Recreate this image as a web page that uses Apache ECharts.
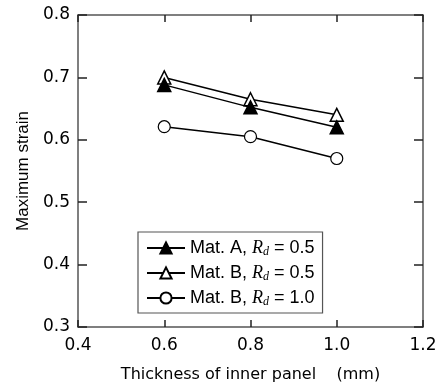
<!DOCTYPE html>
<html><head><meta charset="utf-8">
<script src="https://cdn.jsdelivr.net/npm/echarts@6/dist/echarts.min.js"></script>
<style>html,body{margin:0;padding:0;background:#fff}#c{width:443px;height:385px}</style>
</head><body><div id="c"></div>
<script>
var thickness = [0.6, 0.8, 1.0];
var matA_Rd05 = [0.688, 0.652, 0.620];
var matB_Rd05 = [0.700, 0.665, 0.640];
var matB_Rd10 = [0.621, 0.605, 0.570];
var seriesNames = ['Mat. A', 'Mat. B', 'Mat. B'];
var rdValues = ['0.5', '0.5', '1.0'];
var xTicks = [0.4, 0.6, 0.8, 1.0, 1.2];
var yTicks = [0.3, 0.4, 0.5, 0.6, 0.7, 0.8];

var FONT = 'DejaVu Sans, sans-serif';
var FONT2 = 'Liberation Sans, Arial, sans-serif';
var SERIF = 'Liberation Serif, Times New Roman, serif';
var AX = '#555';
function pairs(ys){ return thickness.map(function(x,i){ return [x, ys[i]]; }); }
function fmtX(v){ var s = v.toFixed(1); return xTicks.some(function(t){return Math.abs(t-v)<1e-9;}) ? s : ''; }

var names = seriesNames.map(function(n,i){ return n + ', R' + i; });
var chart = echarts.init(document.getElementById('c'));
var baseAxis = {
  axisLine:{show:true,lineStyle:{color:AX,width:1.5}},
  splitLine:{show:false}
};
chart.setOption({
  animation:false,
  grid:{left:78,right:20,top:15,bottom:58,containLabel:false,outerBoundsMode:'none'},
  legend:{
    orient:'vertical', left:138, top:232, width:186,
    padding:[7,8,5,8], itemGap:6,
    borderColor:'#555', borderWidth:1.2, backgroundColor:'#fff',
    itemWidth:38, itemHeight:14,
    data: names,
    formatter:function(name){
      var i = +name.slice(-1);
      return seriesNames[i] + ', {r|R}{d|d}{t| = ' + rdValues[i] + '}';
    },
    textStyle:{fontFamily:FONT2,fontSize:18,color:'#000',
      rich:{
        r:{fontFamily:SERIF,fontStyle:'italic',fontSize:18,color:'#000'},
        d:{fontFamily:SERIF,fontStyle:'italic',fontSize:12,color:'#000',verticalAlign:'bottom',padding:[8,0,0,0]},
        t:{fontFamily:FONT2,fontSize:18,color:'#000'}
      }}
  },
  xAxis:[
    Object.assign({type:'value',min:0.4,max:1.2,interval:0.2,position:'bottom',
      name:'Thickness of inner panel    (mm)',nameLocation:'middle',nameGap:40,
      nameTextStyle:{fontFamily:FONT,fontSize:16,color:'#000'},
      axisTick:{inside:true,length:7,lineStyle:{color:'#222',width:1.5}},
      axisLabel:{fontFamily:FONT,fontSize:17,color:'#000',margin:10,formatter:fmtX}},baseAxis),
    Object.assign({type:'value',min:0.4,max:1.2,interval:0.2,position:'top',
      axisTick:{inside:true,length:7,lineStyle:{color:'#222',width:1.5}},
      axisLabel:{show:false}},baseAxis)
  ],
  yAxis:[
    Object.assign({type:'value',min:0.3,max:0.8,interval:0.1,position:'left',
      name:'Maximum strain',nameLocation:'middle',nameGap:45,
      nameTextStyle:{fontFamily:FONT2,fontSize:17,color:'#000'},
      axisTick:{inside:true,length:9,lineStyle:{color:'#222',width:1.5}},
      axisLabel:{fontFamily:FONT,fontSize:17,color:'#000',margin:8,formatter:function(v){return v.toFixed(1);}}},baseAxis),
    Object.assign({type:'value',min:0.3,max:0.8,interval:0.1,position:'right',
      axisTick:{inside:true,length:9,lineStyle:{color:'#222',width:1.5}},
      axisLabel:{show:false}},baseAxis)
  ],
  series:[
    {name:names[0],type:'line',data:pairs(matA_Rd05),symbol:'triangle',symbolSize:13,
      lineStyle:{color:'#000',width:1.5},itemStyle:{color:'#000',borderColor:'#000',borderWidth:1.5},z:3},
    {name:names[1],type:'line',data:pairs(matB_Rd05),symbol:'triangle',symbolSize:13,
      lineStyle:{color:'#000',width:1.5},itemStyle:{color:'#fff',borderColor:'#000',borderWidth:1.5},z:2},
    {name:names[2],type:'line',data:pairs(matB_Rd10),symbol:'circle',symbolSize:12,
      lineStyle:{color:'#000',width:1.5},itemStyle:{color:'#fff',borderColor:'#000',borderWidth:1.2},z:2}
  ]
});
</script></body></html>
